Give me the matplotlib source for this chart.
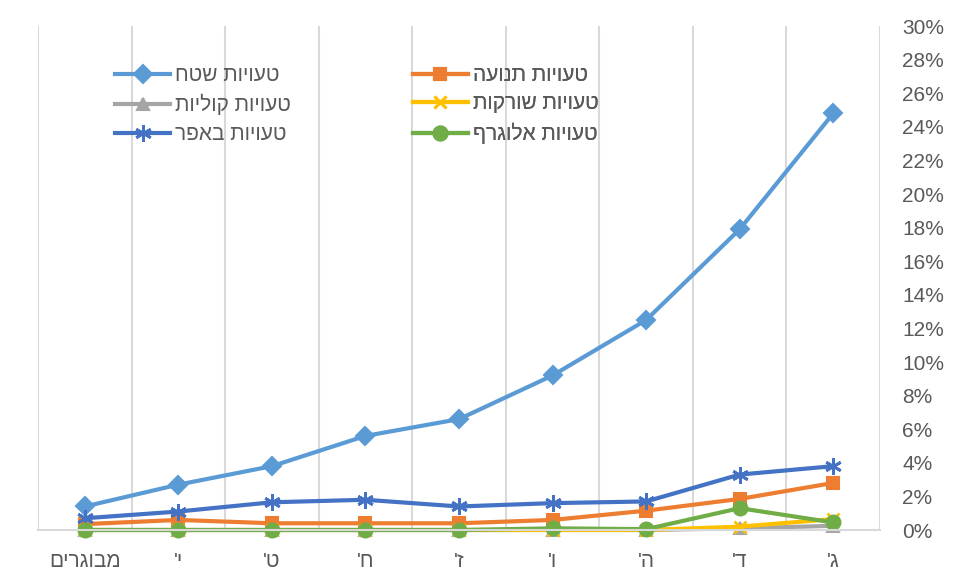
"""Error rates by grade for six error types (Hebrew labels)."""

import matplotlib.pyplot as plt
from matplotlib.lines import Line2D
from matplotlib.ticker import FixedLocator, MultipleLocator, PercentFormatter

plt.rcParams["font.family"] = ["Liberation Sans", "DejaVu Sans"]

# Grades, youngest first; the axis is flipped so they read right-to-left.
GRADES = ["ג'", "ד'", "ה'", "ו'", "ז'", "ח'", "ט'", "י'", "מבוגרים"]

# Error rates in percent, one value per grade.
SHETACH = [24.8, 17.9, 12.5, 9.2, 6.6, 5.6, 3.8, 2.7, 1.4]
TNUA = [2.8, 1.85, 1.15, 0.6, 0.4, 0.4, 0.4, 0.6, 0.35]
KOLIYOT = [0.25, 0.1, 0.0, 0.0, 0.0, 0.0, 0.0, 0.0, 0.0]
SHORKOT = [0.65, 0.2, 0.0, 0.0, 0.0, 0.0, 0.0, 0.0, 0.0]
BEEFER = [3.8, 3.3, 1.7, 1.6, 1.4, 1.8, 1.65, 1.1, 0.7]
ALOGRAF = [0.45, 1.3, 0.05, 0.1, 0.0, 0.0, 0.0, 0.0, 0.0]

SERIES = [
    ("טעויות שטח", SHETACH, "#5B9BD5", "D", 9),
    ("טעויות תנועה", TNUA, "#ED7D31", "s", 9),
    ("טעויות קוליות", KOLIYOT, "#A5A5A5", "^", 9),
    ("טעויות שורקות", SHORKOT, "#FFC000", "x", 9),
    ("טעויות באפר", BEEFER, "#4472C4", (6, 2, 0), 12),
    ("טעויות אלוגרף", ALOGRAF, "#70AD47", "o", 10),
]

TEXT_COLOR = "#595959"
GRID_COLOR = "#D9D9D9"
FONT_SIZE = 15


def rtl(text):
    """matplotlib has no bidi support, so lay Hebrew out visually by hand."""
    return text[::-1]


fig = plt.figure(figsize=(9.6, 5.83), dpi=100)
ax = fig.add_axes([0.0396, 0.0909, 0.8771, 0.8645])

xs = list(range(len(GRADES)))
handles = {}
for label, values, color, marker, size in SERIES:
    filled = marker != "x" and not isinstance(marker, tuple)
    (line,) = ax.plot(
        xs,
        values,
        color=color,
        linewidth=3,
        marker=marker,
        markersize=size,
        markerfacecolor=color,
        markeredgecolor=color,
        markeredgewidth=1.5 if filled else 2,
        solid_joinstyle="round",
        clip_on=False,
    )
    handles[label] = line

ax.set_xlim(-0.5, len(GRADES) - 0.5)
ax.invert_xaxis()
ax.set_ylim(0, 30)

ax.set_xticks(xs)
ax.set_xticklabels([rtl(g) for g in GRADES], fontsize=FONT_SIZE, color=TEXT_COLOR)
ax.xaxis.set_minor_locator(FixedLocator([x - 0.5 for x in range(len(GRADES) + 1)]))
ax.grid(True, axis="x", which="minor", color=GRID_COLOR, linewidth=1.5)
ax.tick_params(axis="x", which="both", length=0, pad=16)

ax.yaxis.tick_right()
ax.yaxis.set_major_locator(MultipleLocator(2))
ax.yaxis.set_major_formatter(PercentFormatter(decimals=0))
ax.tick_params(axis="y", length=0, pad=16, labelsize=FONT_SIZE, labelcolor=TEXT_COLOR)

for side in ("top", "left", "right"):
    ax.spines[side].set_visible(False)
ax.spines["bottom"].set_color(GRID_COLOR)
ax.spines["bottom"].set_linewidth(1.5)


def legend_handle(name):
    src = handles[name]
    return Line2D(
        [0],
        [0],
        color=src.get_color(),
        linewidth=3,
        marker=src.get_marker(),
        markersize=src.get_markersize(),
        markerfacecolor=src.get_color(),
        markeredgecolor=src.get_color(),
        markeredgewidth=src.get_markeredgewidth(),
        label=rtl(name),
    )


# Two legend columns, each placed on its own.
columns = [
    (["טעויות שטח", "טעויות קוליות", "טעויות באפר"], 0.0914),
    (["טעויות תנועה", "טעויות שורקות", "טעויות אלוגרף"], 0.445),
]
for names, x_anchor in columns:
    leg = ax.legend(
        handles=[legend_handle(n) for n in names],
        loc="upper left",
        bbox_to_anchor=(x_anchor, 0.921),
        frameon=False,
        fontsize=FONT_SIZE,
        handlelength=2.65,
        handletextpad=0.25,
        labelspacing=0.45,
        borderpad=0,
        borderaxespad=0,
    )
    for text in leg.get_texts():
        text.set_color(TEXT_COLOR)
    ax.add_artist(leg)

fig.savefig("out.png", dpi=100)
